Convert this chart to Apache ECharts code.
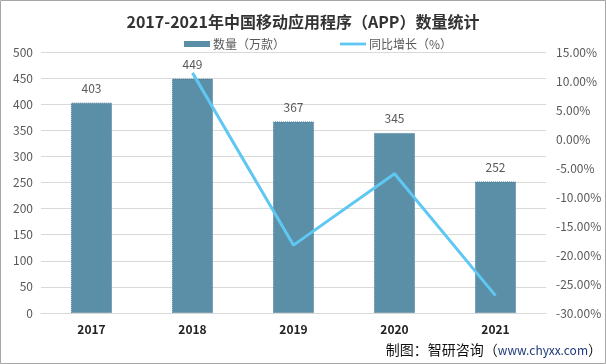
<!DOCTYPE html>
<html><head><meta charset="utf-8">
<script src="https://cdn.jsdelivr.net/npm/echarts@6/dist/echarts.min.js"></script>
<style>html,body{margin:0;padding:0;background:#fff}#c{width:606px;height:364px}</style>
</head><body><div id="c"></div>
<script>
const years = ['2017','2018','2019','2020','2021'];
const appCount = [403, 449, 367, 345, 252];
const growth = [null, 11.4, -18.3, -6.0, -27.0];
const chart = echarts.init(document.getElementById('c'));
const font = '"Microsoft YaHei","Noto Sans CJK SC",sans-serif';
chart.setOption({
  animation:false,
  textStyle:{fontFamily:font},
  title:{text:'2017-2021年中国移动应用程序（APP）数量统计',left:'center',top:9,
    textStyle:{fontSize:16,fontWeight:'bold',color:'#333',fontFamily:font}},
  legend:{top:33,left:179,itemGap:55,itemWidth:26,itemHeight:6,
    textStyle:{fontSize:12,color:'#595959',fontFamily:font,padding:[0,0,0,-2]},
    data:[{name:'数量（万款）',icon:'rect',itemStyle:{borderWidth:0}},
          {name:'同比增长（%）',icon:'path://M0,0 L28,0 L28,3 L0,3 Z'}]},
  grid:{left:41,right:60,top:52,bottom:51},
  xAxis:{type:'category',data:years,
    axisLine:{lineStyle:{color:'#d9d9d9'}},axisTick:{show:false},
    axisLabel:{color:'#222',fontWeight:'bold',fontSize:12,margin:10}},
  yAxis:[
    {type:'value',min:0,max:500,interval:50,
     axisLabel:{color:'#595959',fontSize:12},
     splitLine:{lineStyle:{color:'#d9d9d9'}},axisLine:{show:false},axisTick:{show:false}},
    {type:'value',min:-30,max:15,interval:5,
     axisLabel:{color:'#595959',fontSize:12,margin:10,formatter:v=>v.toFixed(2)+'%'},
     splitLine:{show:false},axisLine:{show:false},axisTick:{show:false}}
  ],
  series:[
    {name:'数量（万款）',type:'bar',data:appCount,barWidth:41,
     itemStyle:{color:'#5b8fa7',borderColor:'#4a7a93',borderWidth:1,borderType:'dotted'},
     label:{show:true,position:'top',color:'#595959',fontSize:12,distance:8}},
    {name:'同比增长（%）',type:'line',yAxisIndex:1,data:growth,
     symbol:'none',lineStyle:{color:'#5ec8f2',width:3},itemStyle:{color:'#5ec8f2'}}
  ],
  graphic:[
    {type:'rect',shape:{x:0.5,y:0.5,width:605,height:363},style:{fill:'none',stroke:'#a6a6a6',lineWidth:1},silent:true},
    {type:'text',right:4,top:343,style:{
      text:'{a|制图：智研咨询（}{b|www.chyxx.com}{a|）}',
      rich:{a:{fontSize:14,fill:'#111',fontFamily:font},b:{fontSize:12,fill:'#1f3a7a',fontFamily:font}}}}
  ]
});
</script></body></html>
